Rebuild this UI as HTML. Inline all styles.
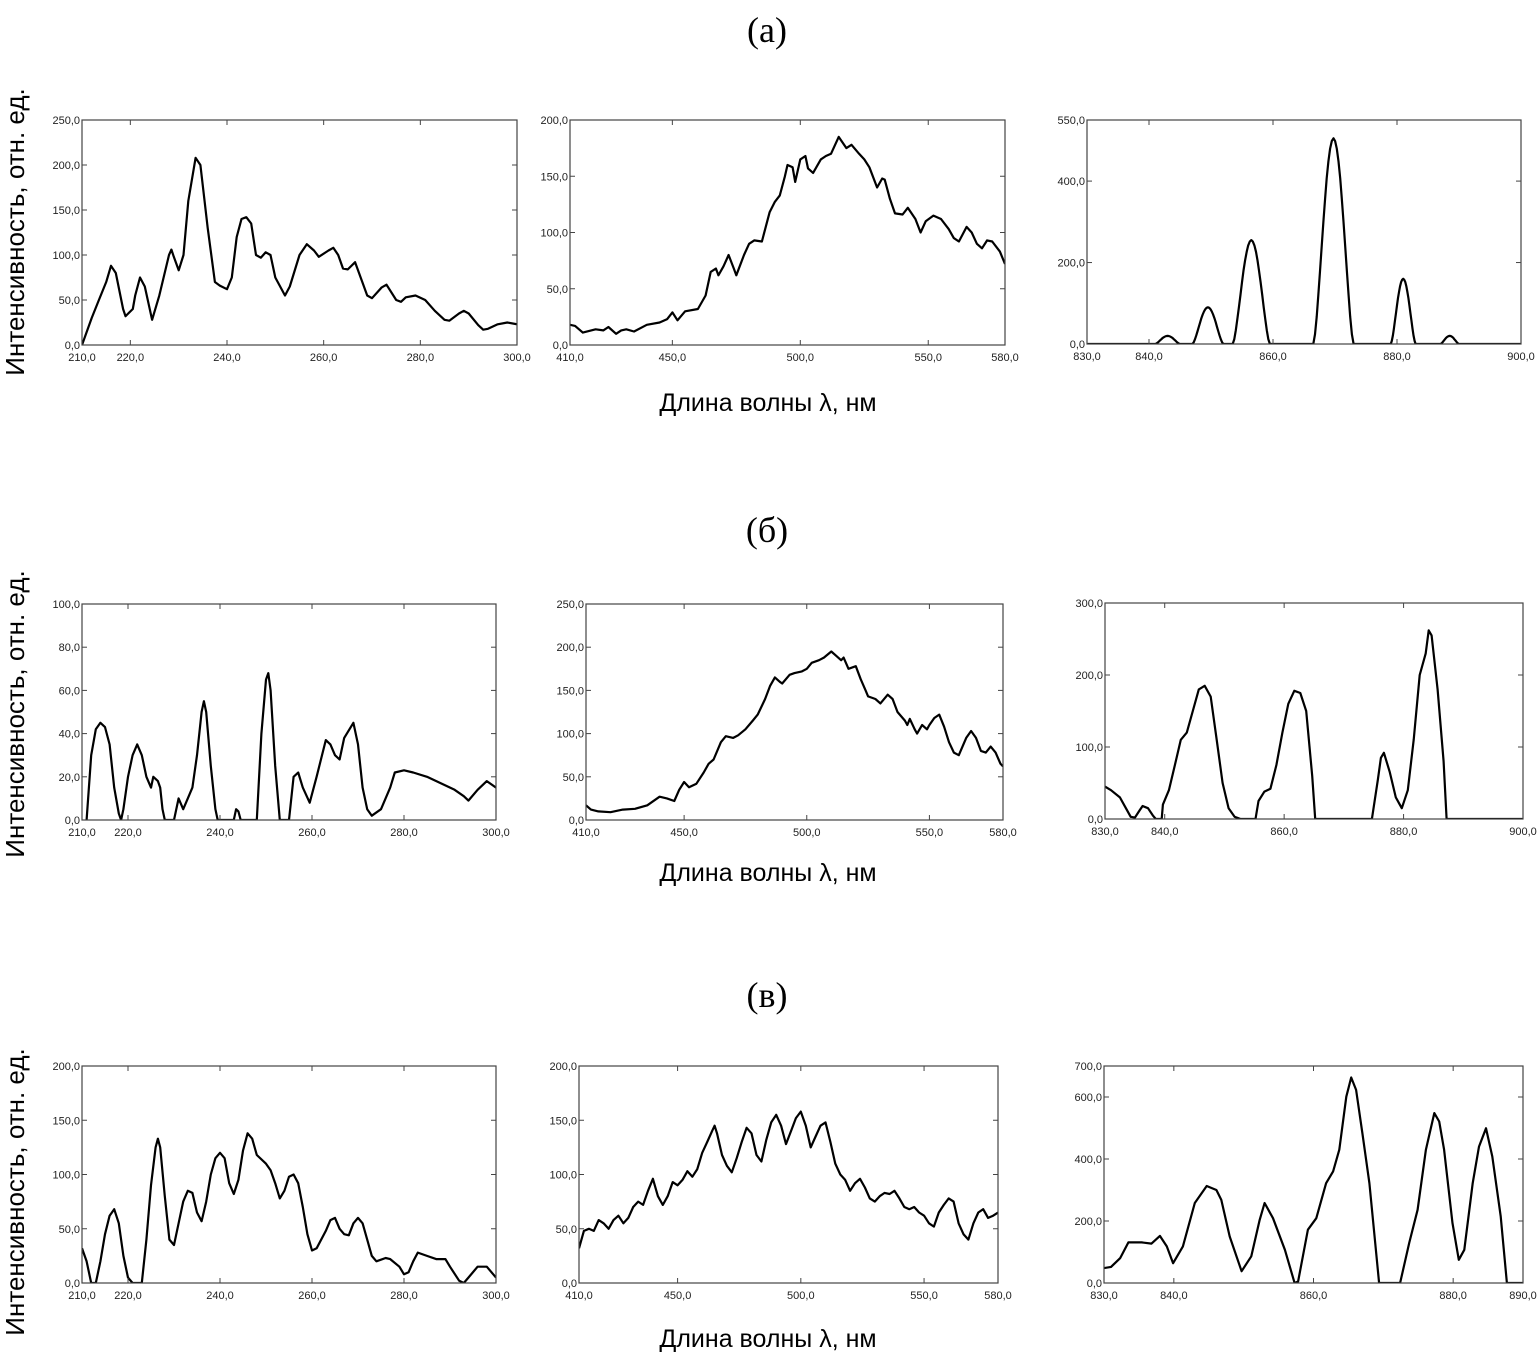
<!DOCTYPE html>
<html><head><meta charset="utf-8"><style>
html,body{margin:0;padding:0;background:#fff;}
svg{display:block;}
</style></head><body>
<svg id="s" width="1538" height="1368" xmlns="http://www.w3.org/2000/svg" font-family="Liberation Sans, DejaVu Sans, sans-serif">
<text x="767" y="42" font-family="Liberation Serif, serif" font-size="36" text-anchor="middle">(a)</text>
<text x="767" y="542" font-family="Liberation Serif, serif" font-size="36" text-anchor="middle">(б)</text>
<text x="767" y="1007" font-family="Liberation Serif, serif" font-size="36" text-anchor="middle">(в)</text>
<text x="768" y="411" font-size="25" text-anchor="middle">Длина волны λ, нм</text>
<text x="768" y="881" font-size="25" text-anchor="middle">Длина волны λ, нм</text>
<text x="768" y="1347" font-size="25" text-anchor="middle">Длина волны λ, нм</text>
<text transform="translate(24,232) rotate(-90)" font-size="26" text-anchor="middle">Интенсивность, отн. ед.</text>
<text transform="translate(24,714) rotate(-90)" font-size="26" text-anchor="middle">Интенсивность, отн. ед.</text>
<text transform="translate(24,1192) rotate(-90)" font-size="26" text-anchor="middle">Интенсивность, отн. ед.</text>
<g id="g"></g>
</svg>
<script>
function pk(list,x0,x1){var p=[[x0,0]];list.forEach(function(q){var a=q[0],b=q[1],h=q[2];for(var i=0;i<=24;i++){var x=a+(b-a)*i/24;p.push([x,h*Math.pow(Math.sin(Math.PI*i/24),1.5)]);}});p.push([x1,0]);return p;}
var b3a=[[830,45],[831,40],[832.5,30],[833.5,15],[834.3,3],[835,2],[835.8,12],[836.3,18],[837.2,15],[838,5],[838.5,0],[839.5,0]];
var b3b=[[844,20],[845,40],[846,75],[847,110],[848,120],[849,150],[850,180],[851,185],[852,170],[853,110],[854,50],[855,15],[856,3],[857,0],[859.5,0],[860,25],[861,38],[862,42],[863,75],[864,120],[865,160],[866,178],[867,175],[868,150],[869,60],[869.5,0],[879,0],[880,55],[880.5,85],[881,92],[882,65],[883,30],[884,15],[885,40],[886,110],[887,200],[888,230],[888.5,262],[889,255],[890,180],[891,80],[891.5,0]].map(function(q){return [q[0]-4.3,q[1]];});
var b3=b3a.concat(b3b).concat([[900,0]]);
var P=[
{x0:82,x1:517,y0:120,y1:345,xr:[210,300],yr:[0,250],xt:[210,220,240,260,280,300],yt:[0,50,100,150,200,250],
d:[[210,0],[212,30],[213.5,50],[215,70],[216,88],[217,80],[218.5,40],[219,32],[220.5,40],[221,55],[222,75],[223,65],[224.5,28],[226,55],[228,100],[228.5,106],[229,98],[230,83],[231,100],[232,160],[233.5,208],[234.5,200],[236,130],[237.5,70],[238.5,66],[240,62],[241,75],[242,120],[243,140],[244,142],[245,135],[246,100],[247,97],[248,103],[249,100],[250,75],[252,55],[253,65],[255,100],[256.5,112],[258,105],[259,98],[261,105],[262,108],[263,100],[264,85],[265,84],[266.5,92],[268,70],[269,55],[270,52],[272,64],[273,67],[275,50],[276,48],[277,53],[279,55],[281,50],[283,38],[285,28],[286,27],[288,35],[289,38],[290,35],[292,22],[293,17],[294,18],[296,23],[298,25],[300,23]]},
{x0:570,x1:1005,y0:120,y1:345,xr:[410,580],yr:[0,200],xt:[410,450,500,550,580],yt:[0,50,100,150,200],
d:[[410,18],[412,17],[415,11],[420,14],[423,13],[425,16],[428,10],[430,13],[432,14],[435,12],[440,18],[445,20],[448,23],[450,29],[452,22],[455,30],[460,32],[463,44],[465,65],[467,68],[468,62],[470,70],[472,80],[474,68],[475,62],[478,80],[480,90],[482,93],[485,92],[488,118],[490,127],[492,133],[494,150],[495,160],[497,158],[498,145],[500,165],[502,168],[503,157],[505,153],[508,165],[510,168],[512,170],[515,185],[518,175],[520,178],[523,170],[525,165],[527,158],[530,140],[532,148],[533,147],[535,130],[537,117],[540,116],[542,122],[545,112],[547,100],[549,110],[552,115],[555,112],[558,103],[560,95],[562,92],[565,105],[567,100],[569,90],[571,86],[573,93],[575,92],[578,83],[580,72]]},
{x0:1087,x1:1521,y0:120,y1:344,xr:[830,900],yr:[0,550],xt:[830,840,860,880,900],yt:[0,200,400,550],
d:pk([[841,845,20],[847,852,90],[853.5,859.5,255],[866.5,873,505],[879,883,160],[887,890,20]],830,900)},
{x0:82,x1:496,y0:604,y1:820,xr:[210,300],yr:[0,100],xt:[210,220,240,260,280,300],yt:[0,20,40,60,80,100],
d:[[211,0],[212,30],[213,42],[214,45],[215,43],[216,35],[217,15],[218,3],[218.5,0],[219,5],[220,20],[221,30],[222,35],[223,30],[224,20],[225,15],[225.5,20],[226.5,18],[227,15],[227.5,5],[228,0],[230,0],[231,10],[232,5],[233,10],[234,15],[235,30],[236,50],[236.5,55],[237,50],[238,25],[239,5],[239.5,0],[243,0],[243.5,5],[244,4],[244.5,0],[248,0],[249,40],[250,65],[250.5,68],[251,60],[252,25],[253,0],[255,0],[256,20],[257,22],[258,15],[259.5,8],[261,20],[263,37],[264,35],[265,30],[266,28],[267,38],[269,45],[270,35],[271,15],[272,5],[273,2],[275,5],[277,15],[278,22],[280,23],[282,22],[285,20],[288,17],[291,14],[293,11],[294,9],[296,14],[298,18],[300,15]]},
{x0:586,x1:1003,y0:604,y1:820,xr:[410,580],yr:[0,250],xt:[410,450,500,550,580],yt:[0,50,100,150,200,250],
d:[[410,17],[412,12],[415,10],[420,9],[425,12],[430,13],[435,17],[440,27],[443,25],[446,22],[448,35],[450,44],[452,38],[455,42],[458,55],[460,65],[462,70],[465,90],[467,97],[470,95],[472,98],[475,105],[478,115],[480,122],[483,140],[485,155],[487,165],[489,160],[490,158],[493,168],[495,170],[498,172],[500,175],[502,182],[505,185],[507,188],[510,195],[512,190],[514,185],[515,188],[517,175],[520,178],[522,163],[524,150],[525,143],[528,140],[530,135],[533,145],[535,140],[537,125],[540,115],[541,110],[542,117],[544,105],[545,100],[547,110],[549,105],[550,110],[552,118],[554,122],[556,108],[558,90],[560,78],[562,75],[565,95],[567,103],[569,95],[571,80],[573,78],[575,85],[577,78],[579,65],[580,62]]},
{x0:1105,x1:1523,y0:603,y1:819,xr:[830,900],yr:[0,300],xt:[830,840,860,880,900],yt:[0,100,200,300],d:b3},
{x0:82,x1:496,y0:1066,y1:1283,xr:[210,300],yr:[0,200],xt:[210,220,240,260,280,300],yt:[0,50,100,150,200],
d:[[210,32],[211,20],[212,0],[213,0],[214,20],[215,45],[216,62],[217,68],[218,55],[219,25],[220,5],[221,0],[223,0],[224,40],[225,90],[226,125],[226.5,133],[227,125],[228,80],[229,40],[230,35],[231,55],[232,75],[233,85],[234,83],[235,65],[236,57],[237,75],[238,100],[239,115],[240,120],[241,115],[242,92],[243,82],[244,95],[245,122],[246,138],[247,133],[248,118],[250,110],[251,104],[252,92],[253,78],[254,85],[255,98],[256,100],[257,92],[258,70],[259,45],[260,30],[261,32],[263,48],[264,58],[265,60],[266,50],[267,45],[268,44],[269,55],[270,60],[271,55],[272,40],[273,25],[274,20],[276,23],[277,22],[279,15],[280,8],[281,10],[282,20],[283,28],[285,25],[287,22],[289,22],[290,15],[292,2],[293,0],[294,5],[296,15],[298,15],[300,5]]},
{x0:579,x1:998,y0:1066,y1:1283,xr:[410,580],yr:[0,200],xt:[410,450,500,550,580],yt:[0,50,100,150,200],
d:[[410,32],[412,48],[414,50],[416,48],[418,58],[420,55],[422,50],[424,58],[426,62],[428,55],[430,60],[432,70],[434,75],[436,72],[438,85],[440,96],[442,80],[444,72],[446,80],[448,93],[450,90],[452,95],[454,103],[456,98],[458,105],[460,120],[462,130],[464,140],[465,145],[466,138],[468,118],[470,108],[472,102],[474,115],[476,130],[478,143],[480,138],[482,118],[484,112],[486,132],[488,148],[490,155],[492,145],[494,128],[496,140],[498,152],[500,158],[502,145],[504,125],[506,135],[508,145],[510,148],[512,130],[514,110],[516,100],[518,95],[520,85],[522,92],[524,96],[526,88],[528,78],[530,75],[532,80],[534,83],[536,82],[538,85],[540,78],[542,70],[544,68],[546,70],[548,65],[550,62],[552,55],[554,52],[556,65],[558,72],[560,78],[562,75],[564,55],[566,45],[568,40],[570,55],[572,65],[574,68],[576,60],[578,62],[580,65]]},
{x0:1104,x1:1523,y0:1066,y1:1283,xr:[830,890],yr:[0,700],xt:[830,840,860,880,890],yt:[0,200,400,600,700],
d:[[830,48],[831,52],[832.3,80],[833.5,131],[835.4,131],[836.8,127],[838,152],[839,118],[839.9,64],[841.3,118],[843,258],[844.7,313],[846.1,300],[846.8,268],[848,150],[849.7,38],[851.1,86],[852.3,204],[853,258],[854.2,209],[855.9,107],[857.3,0],[857.8,5],[859.2,172],[860.4,209],[861.8,322],[862.8,360],[863.7,430],[864.7,601],[865.4,663],[866.1,623],[867,483],[868,322],[869.4,0],[872.4,0],[873.7,129],[874.9,236],[876.1,430],[877.3,548],[878,521],[878.7,430],[879.9,193],[880.8,75],[881.6,107],[882.8,322],[883.7,440],[884.7,499],[885.6,408],[886.8,215],[887.7,0],[890,0]]}
];
var G=document.getElementById("g"),h="";
function f(v){return v.toFixed(1).replace(".",",");}
P.forEach(function(p,i){
 var sx=function(x){return p.x0+(x-p.xr[0])/(p.xr[1]-p.xr[0])*(p.x1-p.x0);};
 var sy=function(y){return p.y1-(y-p.yr[0])/(p.yr[1]-p.yr[0])*(p.y1-p.y0);};
 h+='<clipPath id="c'+i+'"><rect x="'+p.x0+'" y="'+p.y0+'" width="'+(p.x1-p.x0)+'" height="'+(p.y1-p.y0)+'"/></clipPath>';
 var pts=p.d.map(function(q){return sx(q[0]).toFixed(1)+","+sy(Math.max(0,q[1])).toFixed(1);}).join(" ");
 h+='<polyline clip-path="url(#c'+i+')" points="'+pts+'" fill="none" stroke="#000" stroke-width="2.2" stroke-linejoin="round"/>';
 h+='<rect x="'+p.x0+'" y="'+p.y0+'" width="'+(p.x1-p.x0)+'" height="'+(p.y1-p.y0)+'" fill="none" stroke="#444" stroke-width="1.2"/>';
 p.xt.forEach(function(t,k){var x=sx(t);
  if(k>0&&k<p.xt.length-1){h+='<line x1="'+x+'" y1="'+p.y1+'" x2="'+x+'" y2="'+(p.y1-5)+'" stroke="#444"/><line x1="'+x+'" y1="'+p.y0+'" x2="'+x+'" y2="'+(p.y0+5)+'" stroke="#444"/>';}
  h+='<text x="'+x+'" y="'+(p.y1+16)+'" font-size="11" fill="#222" text-anchor="middle">'+f(t)+'</text>';});
 p.yt.forEach(function(t,k){var y=sy(t);
  if(k>0&&k<p.yt.length-1){h+='<line x1="'+p.x0+'" y1="'+y+'" x2="'+(p.x0+5)+'" y2="'+y+'" stroke="#444"/><line x1="'+p.x1+'" y1="'+y+'" x2="'+(p.x1-5)+'" y2="'+y+'" stroke="#444"/>';}
  h+='<text x="'+(p.x0-2)+'" y="'+(y+4)+'" font-size="11" fill="#222" text-anchor="end">'+f(t)+'</text>';});
});
G.innerHTML=h;
</script>
</body></html>
